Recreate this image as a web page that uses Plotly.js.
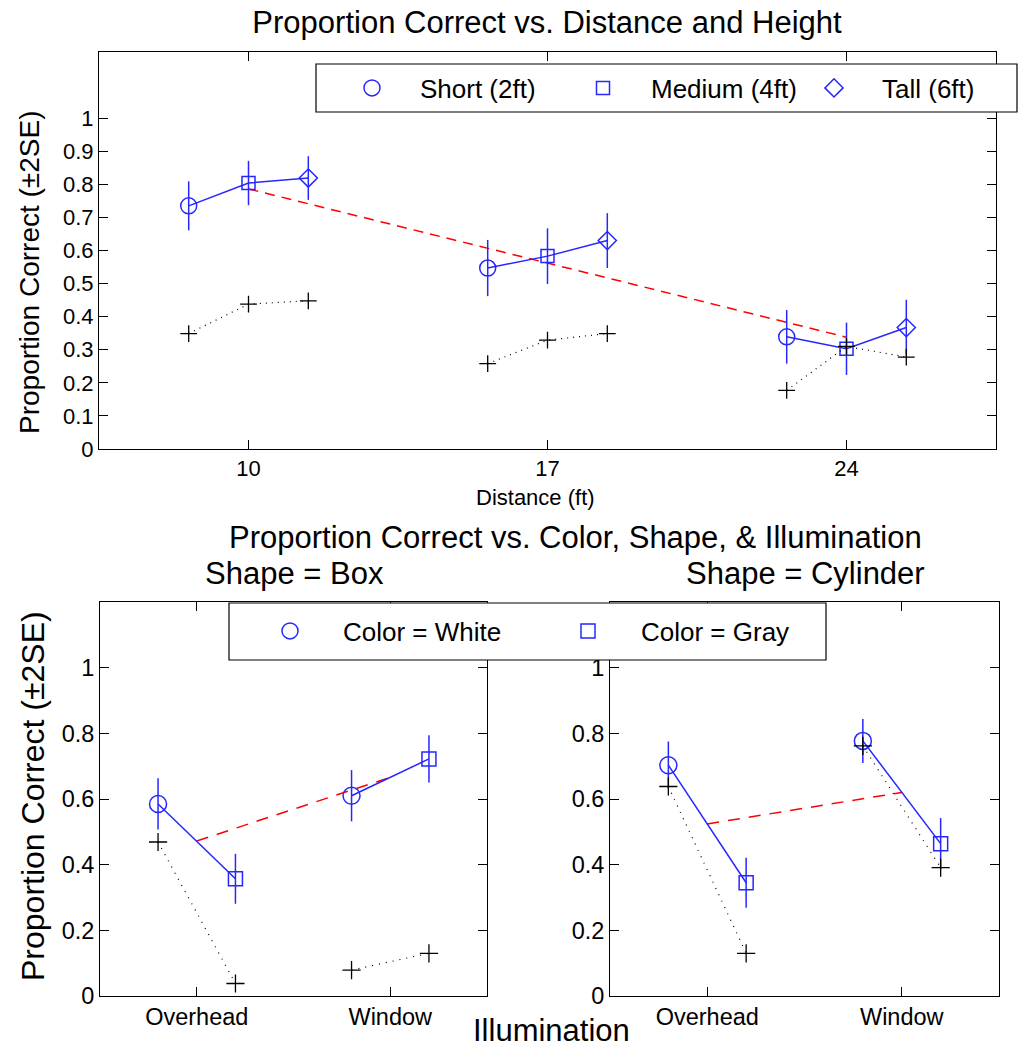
<!DOCTYPE html>
<html><head><meta charset="utf-8">
<script src="https://cdn.plot.ly/plotly-3.0.1.min.js"></script>
<style>html,body{margin:0;padding:0;background:#fff}</style>
</head><body><div id="chart" style="width:1023px;height:1047px"></div>
<script>
// ---------- Top panel data: proportion correct vs distance & height ----------
const distances = [10, 17, 24];
const heightNames = ['Short (2ft)', 'Medium (4ft)', 'Tall (6ft)'];
const shortVals  = [0.735, 0.547, 0.339];
const shortErr   = [0.074, 0.085, 0.081];
const mediumVals = [0.804, 0.583, 0.303];
const mediumErr  = [0.067, 0.084, 0.079];
const tallVals   = [0.819, 0.630, 0.367];
const tallErr    = [0.066, 0.083, 0.084];
const shortPlus  = [0.349, 0.258, 0.177];
const mediumPlus = [0.438, 0.329, 0.310];
const tallPlus   = [0.448, 0.349, 0.278];
const distanceMean = [0.786, 0.561, 0.338];
const topYTicks = [0, 0.1, 0.2, 0.3, 0.4, 0.5, 0.6, 0.7, 0.8, 0.9, 1];
const topYLabels = ['0', '0.1', '0.2', '0.3', '0.4', '0.5', '0.6', '0.7', '0.8', '0.9', '1'];

// ---------- Bottom panels data: color, shape, illumination ----------
const illumination = ['Overhead', 'Window'];
const colorNames = ['Color = White', 'Color = Gray'];
const boxWhite     = [0.585, 0.610];
const boxWhiteErr  = [0.078, 0.078];
const boxGray      = [0.357, 0.722];
const boxGrayErr   = [0.076, 0.072];
const boxWhitePlus = [0.469, 0.079];
const boxGrayPlus  = [0.038, 0.130];
const boxMean      = [0.472, 0.666];
const cylWhite     = [0.703, 0.777];
const cylWhiteErr  = [0.072, 0.067];
const cylGray      = [0.345, 0.464];
const cylGrayErr   = [0.076, 0.078];
const cylWhitePlus = [0.638, 0.762];
const cylGrayPlus  = [0.130, 0.391];
const cylMean      = [0.524, 0.620];
const bottomYTicks = [0, 0.2, 0.4, 0.6, 0.8, 1];
const bottomYLabels = ['0', '0.2', '0.4', '0.6', '0.8', '1'];

// ---------- styling ----------
const W = 1023, H = 1047;
const px = x => x / W;
const py = y => 1 - y / H;
const BLUE = '#2626ff';
const FONT = 'Liberation Sans, Arial, Helvetica, sans-serif';
const heightOffsets = [-1.4, 0, 1.4];
const colorOffsets = [-0.2, 0.2];
const heightSymbols = ['circle-open', 'square-open', 'diamond-open'];
const heightSizes = [16, 13, 14];

const traces = [];

// ---- Top panel ----
const heightVals = [shortVals, mediumVals, tallVals];
const heightErrs = [shortErr, mediumErr, tallErr];
const heightPlus = [shortPlus, mediumPlus, tallPlus];

traces.push({x: distances, y: distanceMean, mode: 'lines', xaxis: 'x', yaxis: 'y',
  line: {color: 'red', width: 1.5, dash: '10px,7px'}, showlegend: false, hoverinfo: 'skip'});

const gx = [], gy = [], gpy = [];
distances.forEach((d, i) => {
  heightOffsets.forEach((o, h) => { gx.push(d + o); gy.push(heightVals[h][i]); gpy.push(heightPlus[h][i]); });
  gx.push(null); gy.push(null); gpy.push(null);
});
traces.push({x: gx, y: gy, mode: 'lines', xaxis: 'x', yaxis: 'y',
  line: {color: BLUE, width: 1.5}, showlegend: false, hoverinfo: 'skip'});

heightNames.forEach((name, h) => {
  traces.push({x: distances.map(d => d + heightOffsets[h]), y: heightVals[h], name: name,
    mode: 'markers', xaxis: 'x', yaxis: 'y', legend: 'legend',
    marker: {symbol: heightSymbols[h], size: heightSizes[h], color: BLUE, line: {color: BLUE, width: 1.5}},
    error_y: {type: 'data', array: heightErrs[h], visible: true, width: 0, thickness: 1.5, color: BLUE}});
});

traces.push({x: gx, y: gpy, mode: 'lines+markers', xaxis: 'x', yaxis: 'y',
  line: {color: 'black', width: 1.2, dash: '1px,5px'},
  marker: {symbol: 'cross-thin-open', size: 12, color: 'black', line: {color: 'black', width: 1.3}},
  showlegend: false, hoverinfo: 'skip'});

// ---- Bottom panels ----
function panel(xa, ya, white, whiteErr, gray, grayErr, whitePlus, grayPlus, mean, showLegend) {
  const cats = illumination.map((c, i) => i + 1);
  traces.push({x: cats, y: mean, mode: 'lines', xaxis: xa, yaxis: ya,
    line: {color: 'red', width: 1.5, dash: '12px,9px'}, showlegend: false, hoverinfo: 'skip'});
  const lx = [], ly = [], lp = [];
  cats.forEach((c, i) => {
    lx.push(c + colorOffsets[0], c + colorOffsets[1], null);
    ly.push(white[i], gray[i], null);
    lp.push(whitePlus[i], grayPlus[i], null);
  });
  traces.push({x: lx, y: ly, mode: 'lines', xaxis: xa, yaxis: ya,
    line: {color: BLUE, width: 1.5}, showlegend: false, hoverinfo: 'skip'});
  [[white, whiteErr, 'circle-open', 17], [gray, grayErr, 'square-open', 14]].forEach((s, k) => {
    traces.push({x: cats.map(c => c + colorOffsets[k]), y: s[0], name: colorNames[k],
      mode: 'markers', xaxis: xa, yaxis: ya, legend: 'legend2', showlegend: showLegend,
      marker: {symbol: s[2], size: s[3], color: BLUE, line: {color: BLUE, width: 1.5}},
      error_y: {type: 'data', array: s[1], visible: true, width: 0, thickness: 1.5, color: BLUE}});
  });
  traces.push({x: lx, y: lp, mode: 'lines+markers', xaxis: xa, yaxis: ya,
    line: {color: 'black', width: 1.2, dash: '1px,6px'},
    marker: {symbol: 'cross-thin-open', size: 13, color: 'black', line: {color: 'black', width: 1.3}},
    showlegend: false, hoverinfo: 'skip'});
}
panel('x2', 'y2', boxWhite, boxWhiteErr, boxGray, boxGrayErr, boxWhitePlus, boxGrayPlus, boxMean, true);
panel('x3', 'y3', cylWhite, cylWhiteErr, cylGray, cylGrayErr, cylWhitePlus, cylGrayPlus, cylMean, false);

// ---------- layout ----------
const axisBase = {showline: true, linecolor: 'black', linewidth: 1, mirror: 'ticks',
  ticks: 'inside', ticklen: 9, tickwidth: 1, tickcolor: 'black', showgrid: false, zeroline: false,
  fixedrange: true};

const layout = {
  width: W, height: H, margin: {l: 0, r: 0, t: 0, b: 0},
  paper_bgcolor: 'white', plot_bgcolor: 'white',
  font: {family: FONT, color: 'black'},
  title: {text: 'Proportion Correct vs. Distance and Height', font: {size: 31, family: FONT, color: 'black'},
    x: px(547), xanchor: 'center', y: py(22), yanchor: 'middle', xref: 'paper', yref: 'paper'},
  showlegend: true, hovermode: false,
  xaxis: Object.assign({}, axisBase, {domain: [px(99), px(996)], range: [6.5, 27.5],
    tickvals: distances, ticktext: distances.map(String), tickfont: {size: 22}, anchor: 'y'}),
  yaxis: Object.assign({}, axisBase, {domain: [py(449), py(52)], range: [0, 1.2],
    tickvals: topYTicks, ticktext: topYLabels, tickfont: {size: 22}, anchor: 'x'}),
  xaxis2: Object.assign({}, axisBase, {domain: [px(100), px(487)], range: [0.5, 2.5],
    tickvals: [1, 2], ticktext: illumination, tickfont: {size: 23.5}, anchor: 'y2'}),
  yaxis2: Object.assign({}, axisBase, {domain: [py(996), py(602)], range: [0, 1.2],
    tickvals: bottomYTicks, ticktext: bottomYLabels, tickfont: {size: 23.5}, anchor: 'x2'}),
  xaxis3: Object.assign({}, axisBase, {domain: [px(610), px(999)], range: [0.5, 2.5],
    tickvals: [1, 2], ticktext: illumination, tickfont: {size: 23.5}, anchor: 'y3'}),
  yaxis3: Object.assign({}, axisBase, {domain: [py(996), py(602)], range: [0, 1.2],
    tickvals: bottomYTicks, ticktext: bottomYLabels, tickfont: {size: 23.5}, anchor: 'x3'}),
  legend: {orientation: 'h', x: px(324), y: py(88), xanchor: 'left', yanchor: 'middle',
    bgcolor: 'rgba(0,0,0,0)', borderwidth: 0, font: {size: 26, family: FONT, color: 'black'},
    itemwidth: 86, entrywidth: 130, entrywidthmode: 'pixels', itemclick: false, itemdoubleclick: false},
  legend2: {orientation: 'h', x: px(237), y: py(631), xanchor: 'left', yanchor: 'middle',
    bgcolor: 'rgba(0,0,0,0)', borderwidth: 0, font: {size: 26, family: FONT, color: 'black'},
    itemwidth: 96, entrywidth: 187, entrywidthmode: 'pixels', itemclick: false, itemdoubleclick: false},
  shapes: [
    {type: 'rect', xref: 'paper', yref: 'paper', x0: px(316), x1: px(1017), y0: py(112), y1: py(64),
      fillcolor: 'white', line: {color: 'black', width: 1.2}, layer: 'above'},
    {type: 'rect', xref: 'paper', yref: 'paper', x0: px(229), x1: px(826), y0: py(660), y1: py(603),
      fillcolor: 'white', line: {color: 'black', width: 1.2}, layer: 'above'}
  ],
  annotations: [
    {text: 'Proportion Correct (±2SE)', x: px(30), y: py(273), xref: 'paper', yref: 'paper',
      textangle: -90, showarrow: false, font: {size: 28}, xanchor: 'center', yanchor: 'middle'},
    {text: 'Distance (ft)', x: px(535), y: py(497), xref: 'paper', yref: 'paper',
      showarrow: false, font: {size: 22}, xanchor: 'center', yanchor: 'middle'},
    {text: 'Proportion Correct vs. Color, Shape, & Illumination', x: px(575), y: py(537), xref: 'paper', yref: 'paper',
      showarrow: false, font: {size: 31}, xanchor: 'center', yanchor: 'middle'},
    {text: 'Shape = Box', x: px(294), y: py(573), xref: 'paper', yref: 'paper',
      showarrow: false, font: {size: 31}, xanchor: 'center', yanchor: 'middle'},
    {text: 'Shape = Cylinder', x: px(805), y: py(573), xref: 'paper', yref: 'paper',
      showarrow: false, font: {size: 31}, xanchor: 'center', yanchor: 'middle'},
    {text: 'Proportion Correct (±2SE)', x: px(33), y: py(796), xref: 'paper', yref: 'paper',
      textangle: -90, showarrow: false, font: {size: 32}, xanchor: 'center', yanchor: 'middle'},
    {text: 'Illumination', x: px(551), y: py(1030), xref: 'paper', yref: 'paper',
      showarrow: false, font: {size: 31}, xanchor: 'center', yanchor: 'middle'}
  ]
};

Plotly.newPlot('chart', traces, layout, {staticPlot: true, displayModeBar: false});
</script>
</body></html>
